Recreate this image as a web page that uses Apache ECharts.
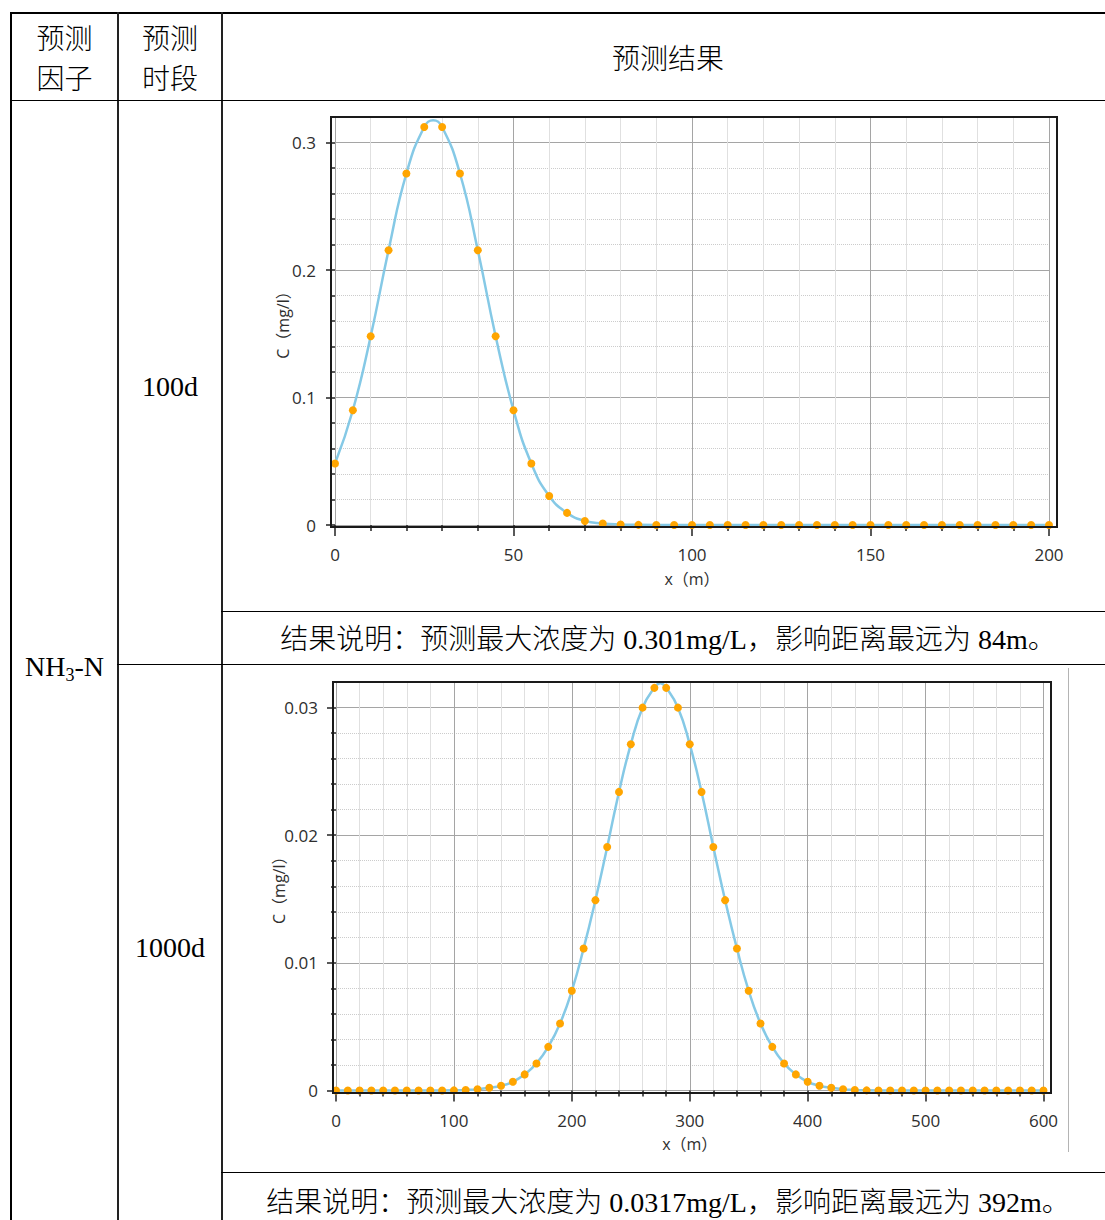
<!DOCTYPE html>
<html>
<head>
<meta charset="utf-8">
<script src="https://cdn.jsdelivr.net/npm/echarts@6/dist/echarts.min.js"></script>
<style>
html,body{margin:0;padding:0;background:#fff;}
#page{position:relative;width:1105px;height:1220px;overflow:hidden;background:#fff;}
.ln{position:absolute;background:#000;}
.tx{position:absolute;font-family:"Liberation Serif","Noto Sans CJK SC",serif;font-size:28px;font-weight:300;color:#000;text-align:center;line-height:40px;white-space:nowrap;}
.sub{font-size:18px;position:relative;top:5px;}
#chart{position:absolute;left:0;top:0;width:1105px;height:1220px;}
</style>
</head>
<body>
<div id="page">
  <!-- table rules -->
  <div class="ln" style="left:10px;top:12px;width:1095px;height:2px;"></div>
  <div class="ln" style="left:10px;top:12px;width:2px;height:1208px;"></div>
  <div class="ln" style="left:117px;top:12px;width:1.5px;height:1208px;background:#222;"></div>
  <div class="ln" style="left:221px;top:12px;width:1.5px;height:1208px;background:#222;"></div>
  <div class="ln" style="left:10px;top:99.5px;width:1095px;height:1.5px;"></div>
  <div class="ln" style="left:221px;top:610.5px;width:884px;height:1.5px;"></div>
  <div class="ln" style="left:117px;top:663.5px;width:988px;height:1.5px;"></div>
  <div class="ln" style="left:221px;top:1171.5px;width:884px;height:1.5px;"></div>
  <div class="ln" style="left:1068px;top:668px;width:1px;height:484px;background:#b4b4b4;"></div>

  <!-- table text -->
  <div class="tx" style="left:12px;width:105px;top:20px;">预测<br>因子</div>
  <div class="tx" style="left:119px;width:102px;top:20px;">预测<br>时段</div>
  <div class="tx" style="left:222px;width:892px;top:40px;">预测结果</div>
  <div class="tx" style="left:119px;width:102px;top:367px;">100d</div>
  <div class="tx" style="left:119px;width:102px;top:928px;">1000d</div>
  <div class="tx" style="left:12px;width:105px;top:647px;">NH<span class="sub">3</span>-N</div>
  <div class="tx" style="left:222px;width:892px;top:620px;">结果说明：预测最大浓度为 0.301mg/L，影响距离最远为 84m。</div>
  <div class="tx" style="left:222px;width:892px;top:1183px;">结果说明：预测最大浓度为 0.0317mg/L，影响距离最远为 392m。</div>

  <div id="chart"></div>
</div>
<script>
// ---------- data ----------
const xPos1 = [0,5,10,15,20,25,30,35,40,45,50,55,60,65,70,75,80,85,90,95,100,105,110,115,120,125,130,135,140,145,150,155,160,165,170,175,180,185,190,195,200];
const conc1 = [0.0482,0.0900,0.1481,0.2155,0.2757,0.3122,0.3122,0.2757,0.2155,0.1481,0.0900,0.0482,0.0228,0.0095,0.0032,0.0012,0.0004,0.0001,0,0,0,0,0,0,0,0,0,0,0,0,0,0,0,0,0,0,0,0,0,0,0];
// apex of the drawn curve (between the two top markers)
const curveApex1 = [27.5, 0.3175];
const xPos2 = [0,10,20,30,40,50,60,70,80,90,100,110,120,130,140,150,160,170,180,190,200,210,220,230,240,250,260,270,280,290,300,310,320,330,340,350,360,370,380,390,400,410,420,430,440,450,460,470,480,490,500,510,520,530,540,550,560,570,580,590,600];
const conc2 = [0,0,0,0,0,0,0,0,0,0,0.00001,0.00004,0.0001,0.00021,0.00037,0.00068,0.00126,0.00212,0.00342,0.00525,0.00781,0.01113,0.01491,0.01908,0.02339,0.02712,0.02999,0.03154,0.03154,0.02999,0.02712,0.02339,0.01908,0.01491,0.01113,0.00781,0.00525,0.00342,0.00212,0.00126,0.00068,0.00037,0.00021,0.0001,0.00004,0.00001,0,0,0,0,0,0,0,0,0,0,0,0,0,0,0];
const curveApex2 = [275, 0.0319];
const xTicks1 = [0,50,100,150,200];
const yTicks1 = [0,0.1,0.2,0.3];
const yMax1 = 0.32;
const xTicks2 = [0,100,200,300,400,500,600];
const yTicks2 = [0,0.01,0.02,0.03];
const yMax2 = 0.032;
const xName = 'x（m）';
const yName = 'C（mg/l）';

// ---------- styles ----------
const FONT = '"Open Sans","Noto Sans CJK SC",sans-serif';
const labelStyle = {fontFamily: FONT, fontSize: 17, color: '#2e2e2e'};
const nameStyle = {fontFamily: FONT, fontSize: 16, color: '#2e2e2e'};
const tickColor = '#222';

function xAxisFor(grid, ticks, offset, nameGap) {
  return {
    gridIndex: grid, type: 'value',
    min: ticks[0], max: ticks[ticks.length - 1], interval: ticks[1] - ticks[0],
    offset: offset,
    axisLine: {show: false},
    axisTick: {show: true, length: 11, lineStyle: {color: tickColor, width: 1.5}},
    minorTick: {show: true, splitNumber: 5, length: 6, lineStyle: {color: tickColor, width: 1.5}},
    axisLabel: Object.assign({margin: 19, customValues: ticks}, labelStyle),
    splitLine: {show: true, lineStyle: {color: '#a5a5a5', width: 1}},
    minorSplitLine: {show: true, lineStyle: {color: '#e0e0e0', width: 1}},
    name: xName, nameLocation: 'middle', nameGap: nameGap, nameMoveOverlap: false, nameTextStyle: nameStyle
  };
}
function yAxisFor(grid, ticks, max, offset, nameGap) {
  const step = ticks[1] - ticks[0];
  return {
    gridIndex: grid, type: 'value',
    min: ticks[0], max: max, interval: step,
    offset: offset,
    axisLine: {show: false},
    axisTick: {show: true, length: 9, customValues: ticks, lineStyle: {color: tickColor, width: 1.5}},
    minorTick: {show: true, splitNumber: 5, length: 5, lineStyle: {color: tickColor, width: 1.5}},
    axisLabel: Object.assign({margin: 15, customValues: ticks,
      formatter: function (v) { return ticks.some(t => Math.abs(t - v) < step / 1000) ? String(v) : ''; }
    }, labelStyle),
    splitLine: {show: true, lineStyle: {color: '#a5a5a5', width: 1}},
    minorSplitLine: {show: true, lineStyle: {color: '#cccccc', width: 1, type: 'dotted'}},
    name: yName, nameLocation: 'middle', nameGap: nameGap, nameMoveOverlap: false, nameTextStyle: nameStyle
  };
}
function hiddenAxis(grid) { return {gridIndex: grid, type: 'value', show: false}; }

function curveSeries(axisIdx, xs, ys, apex) {
  const pts = xs.map((x, i) => [x, ys[i]]).concat([apex]).sort((a, b) => a[0] - b[0]);
  return {
    type: 'line', xAxisIndex: axisIdx, yAxisIndex: axisIdx,
    data: pts, smooth: true, clip: false, showSymbol: false, symbol: 'none',
    lineStyle: {color: '#85c9e6', width: 2.5}, z: 2
  };
}
function markerSeries(axisIdx, xs, ys) {
  return {
    type: 'scatter', xAxisIndex: axisIdx, yAxisIndex: axisIdx,
    data: xs.map((x, i) => [x, ys[i]]), clip: false,
    symbol: 'circle', symbolSize: 8,
    itemStyle: {color: '#ffa500', opacity: 1}, z: 3
  };
}

const chart = echarts.init(document.getElementById('chart'), null, {renderer: 'svg'});
chart.setOption({
  animation: false,
  backgroundColor: 'transparent',
  grid: [
    {left: 331, top: 117, width: 726, height: 410, show: true, borderColor: '#1a1a1a', borderWidth: 2, backgroundColor: 'transparent', z: 5},
    {left: 335, top: 117, width: 714, height: 408},
    {left: 333, top: 682, width: 718, height: 411, show: true, borderColor: '#1a1a1a', borderWidth: 2, backgroundColor: 'transparent', z: 5},
    {left: 336, top: 682, width: 707.5, height: 408.5}
  ],
  xAxis: [hiddenAxis(0), xAxisFor(1, xTicks1, 2, 44), hiddenAxis(2), xAxisFor(3, xTicks2, 2.5, 43)],
  yAxis: [hiddenAxis(0), yAxisFor(1, yTicks1, yMax1, 4, 40), hiddenAxis(2), yAxisFor(3, yTicks2, yMax2, 3, 46)],
  series: [
    curveSeries(1, xPos1, conc1, curveApex1), markerSeries(1, xPos1, conc1),
    curveSeries(3, xPos2, conc2, curveApex2), markerSeries(3, xPos2, conc2)
  ]
});
</script>
</body>
</html>
